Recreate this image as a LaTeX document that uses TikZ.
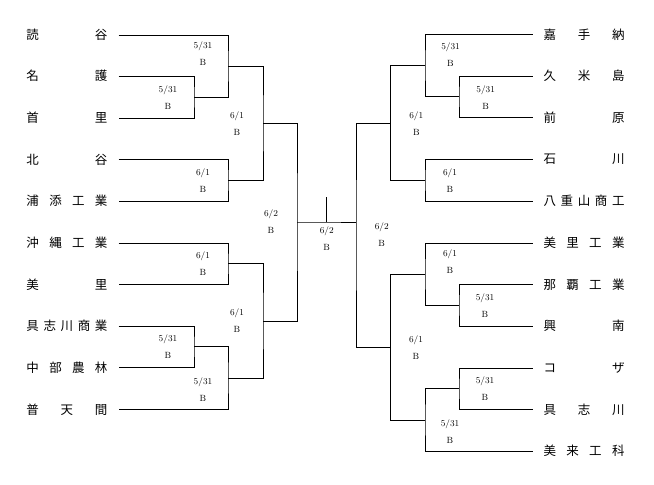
\documentclass[tikz,border=0pt]{standalone}
\usepackage{fontspec}
\newfontfamily\jpfont{Noto Sans CJK JP}
\usepackage{tikz}

\tikzset{
  team/.style={inner xsep=0pt, outer xsep=11pt, font=\jpfont\fontsize{12.5}{14}\selectfont},
  date/.style={align=center, inner sep=0pt, font=\fontsize{9}{17}\selectfont},
}
\newcommand{\spread}[1]{\makebox[81pt]{#1}}

\begin{document}
\begin{tikzpicture}[x=1pt, y=-1pt, line width=0.6pt]
        \useasboundingbox (0,0) rectangle (654,485);

        % left teams
        \node[team] (l1) at (67,35) {\spread{読\hfill 谷}};
        \node[team] (l2) at (67,76) {\spread{名\hfill 護}};
        \node[team] (l3) at (67,118) {\spread{首\hfill 里}};
        \node[team] (l4) at (67,159.5) {\spread{北\hfill 谷}};
        \node[team] (l5) at (67,201) {\spread{浦\hfill 添\hfill 工\hfill 業}};
        \node[team] (l6) at (67,243) {\spread{沖\hfill 縄\hfill 工\hfill 業}};
        \node[team] (l7) at (67,284.5) {\spread{美\hfill 里}};
        \node[team] (l8) at (67,326) {\spread{具\hfill 志\hfill 川\hfill 商\hfill 業}};
        \node[team] (l9) at (67,367.5) {\spread{中\hfill 部\hfill 農\hfill 林}};
        \node[team] (l10) at (67,409.5) {\spread{普\hfill 天\hfill 間}};

        % right teams
        \node[team] (r1) at (584,34.5) {\spread{嘉\hfill 手\hfill 納}};
        \node[team] (r2) at (584,76) {\spread{久\hfill 米\hfill 島}};
        \node[team] (r3) at (584,117.5) {\spread{前\hfill 原}};
        \node[team] (r4) at (584,159.5) {\spread{石\hfill 川}};
        \node[team] (r5) at (584,201) {\spread{八\hfill 重\hfill 山\hfill 商\hfill 工}};
        \node[team] (r6) at (584,243) {\spread{美\hfill 里\hfill 工\hfill 業}};
        \node[team] (r7) at (584,284.5) {\spread{那\hfill 覇\hfill 工\hfill 業}};
        \node[team] (r8) at (584,326) {\spread{興\hfill 南}};
        \node[team] (r9) at (584,368) {\spread{コ\hfill ザ}};
        \node[team] (r10) at (584,409.5) {\spread{具\hfill 志\hfill 川}};
        \node[team] (r11) at (584,451) {\spread{美\hfill 来\hfill 工\hfill 科}};

        % junctions
        \coordinate (a) at (194,97);
        \coordinate (b) at (228,66);
        \coordinate (c) at (228,180.25);
        \coordinate (d) at (263,123);
        \coordinate (e) at (228,263.75);
        \coordinate (f) at (194,346.75);
        \coordinate (g) at (228,378);
        \coordinate (h) at (263,321);
        \coordinate (i) at (297,222);
        \coordinate (A) at (459,96.75);
        \coordinate (B) at (425,65.6);
        \coordinate (C) at (425,180.25);
        \coordinate (D) at (390.7,123);
        \coordinate (E) at (459,305.25);
        \coordinate (F) at (425,274);
        \coordinate (G) at (459,388.75);
        \coordinate (H) at (425,420);
        \coordinate (I) at (390.7,347);
        \coordinate (J) at (356,235);
        \coordinate (fin) at (326.7,222);
        \coordinate (top) at (326.7,197);

        \draw (l2.east) -| (a) |- (l3.east);
        \draw (l1.east) -| (b) |- (a);
        \draw (l4.east) -| (c) |- (l5.east);
        \draw (b) -| (d) |- (c);
        \draw (l6.east) -| (e) |- (l7.east);
        \draw (l8.east) -| (f) |- (l9.east);
        \draw (f) -| (g) |- (l10.east);
        \draw (e) -| (h) |- (g);
        \draw (d) -| (i) |- (h);

        \draw (r2.west) -| (A) |- (r3.west);
        \draw (r1.west) -| (B) |- (A);
        \draw (r4.west) -| (C) |- (r5.west);
        \draw (B) -| (D) |- (C);
        \draw (r7.west) -| (E) |- (r8.west);
        \draw (r6.west) -| (F) |- (E);
        \draw (r9.west) -| (G) |- (r10.west);
        \draw (G) -| (H) |- (r11.west);
        \draw (F) -| (I) |- (H);
        \draw (D) -| (J) |- (I);

        \draw (i) -- (fin) -- (fin -| J);
        \draw (fin) -- (top);

        % dates
        \node[date] (da) at (168,97.5) {5/31\\B};
        \node[date] (db) at (203,54) {5/31\\B};
        \node[date] (dc) at (203,180.5) {6/1\\B};
        \node[date] (dd) at (237,123.5) {6/1\\B};
        \node[date] (de) at (203,263.3) {6/1\\B};
        \node[date] (df) at (168,347) {5/31\\B};
        \node[date] (dg) at (203,390) {5/31\\B};
        \node[date] (dh) at (237,321) {6/1\\B};
        \node[date] (di) at (271,222) {6/2\\B};
        \node[date] (dfin) at (326.7,238.3) {6/2\\B};
        \node[date] (dA) at (485.7,97.3) {5/31\\B};
        \node[date] (dB) at (450.5,54.3) {5/31\\B};
        \node[date] (dC) at (450,180.5) {6/1\\B};
        \node[date] (dD) at (416.3,123.3) {6/1\\B};
        \node[date] (dE) at (485,305.5) {5/31\\B};
        \node[date] (dF) at (450,262) {6/1\\B};
        \node[date] (dG) at (485,388.8) {5/31\\B};
        \node[date] (dH) at (450,431.3) {5/31\\B};
        \node[date] (dI) at (416,347.5) {6/1\\B};
        \node[date] (dJ) at (381.7,234.7) {6/2\\B};
\end{tikzpicture}
\end{document}
